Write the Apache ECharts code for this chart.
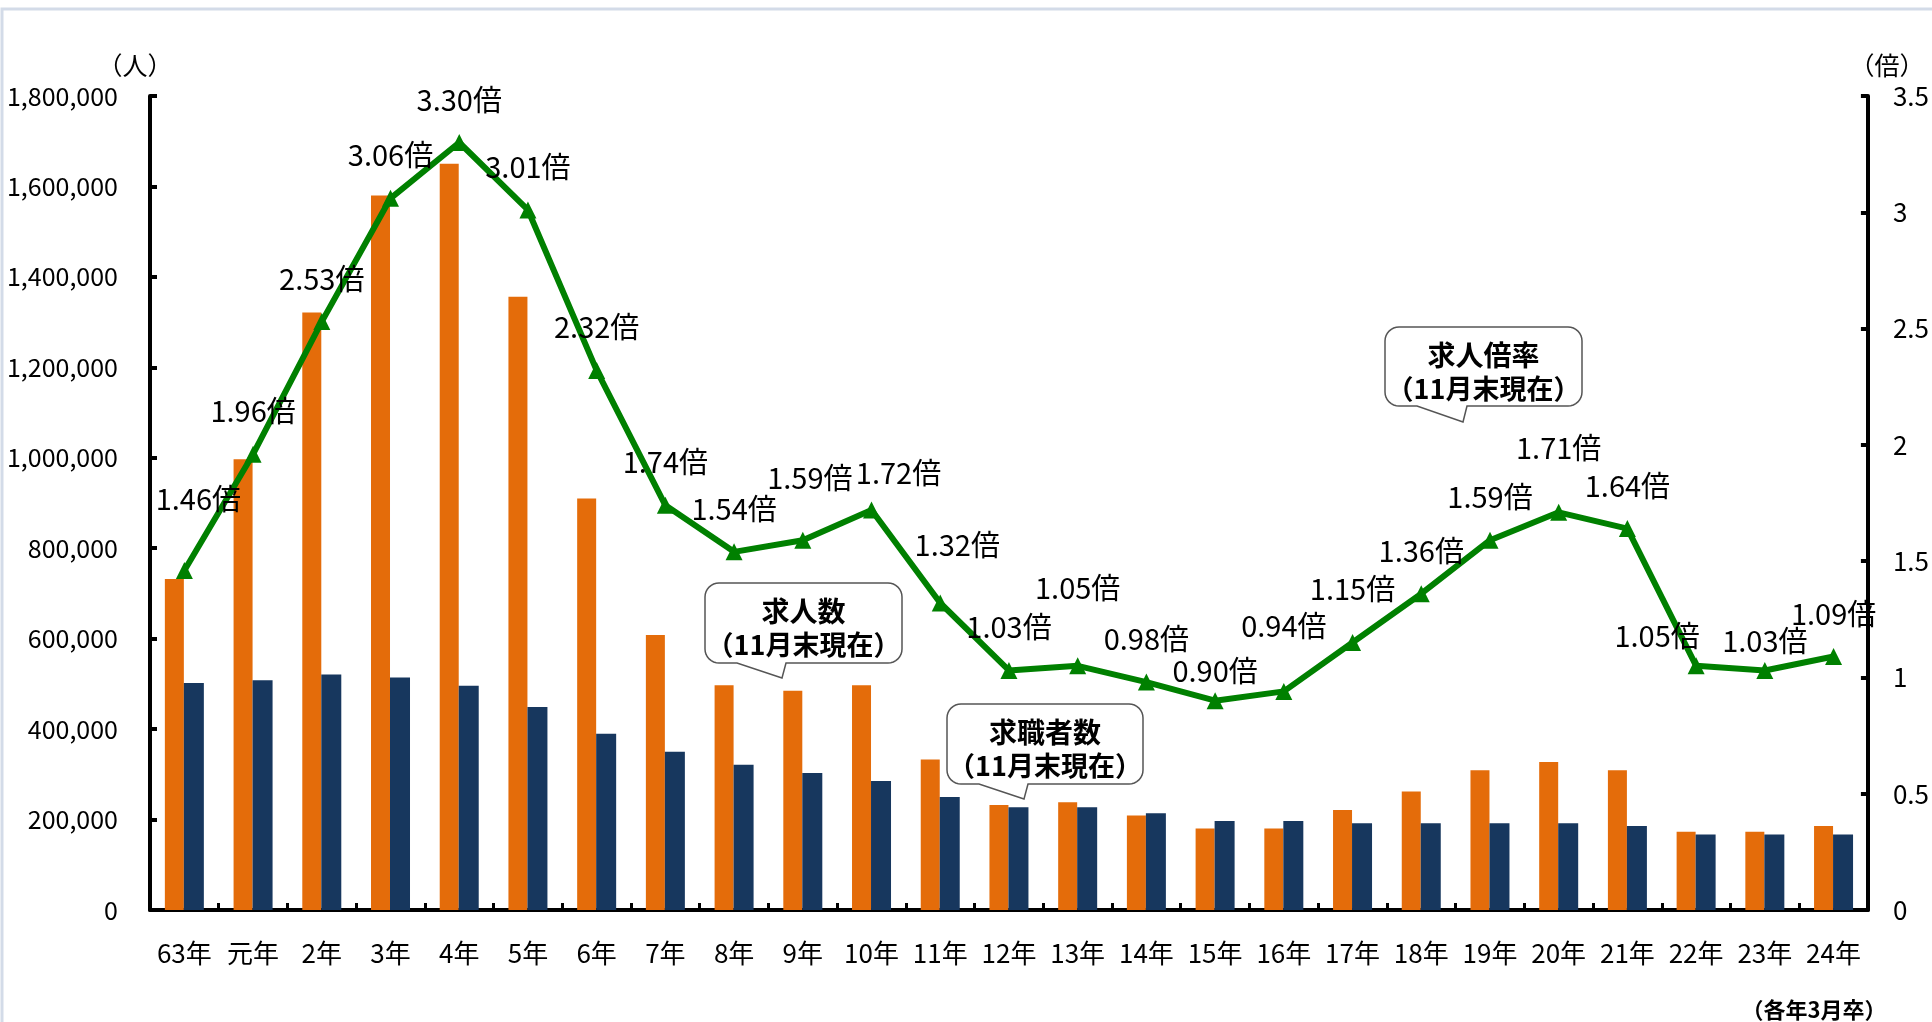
<!DOCTYPE html>
<html><head><meta charset="utf-8">
<script src="https://cdn.jsdelivr.net/npm/echarts@6/dist/echarts.min.js"></script>
<style>html,body{margin:0;padding:0;background:#fff}#c{width:1932px;height:1022px}</style>
</head><body><div id="c"></div>
<script>
const categories = ['63年','元年','2年','3年','4年','5年','6年','7年','8年','9年','10年','11年','12年','13年','14年','15年','16年','17年','18年','19年','20年','21年','22年','23年','24年'];
const jobOffers = [732000, 997000, 1321000, 1580000, 1650000, 1356000, 910000, 608000, 497000, 485000, 497000, 333000, 232000, 238000, 209000, 180000, 180000, 221000, 262000, 309000, 327000, 309000, 173000, 173000, 186000];
const jobSeekers = [502000, 508000, 521000, 514000, 496000, 449000, 390000, 350000, 321000, 303000, 285000, 250000, 227000, 227000, 214000, 197000, 197000, 192000, 192000, 192000, 192000, 186000, 167000, 167000, 167000];
const ratio = [1.46, 1.96, 2.53, 3.06, 3.30, 3.01, 2.32, 1.74, 1.54, 1.59, 1.72, 1.32, 1.03, 1.05, 0.98, 0.90, 0.94, 1.15, 1.36, 1.59, 1.71, 1.64, 1.05, 1.03, 1.09];
const leftTicks = {min: 0, max: 1800000, interval: 200000};
const rightTicks = {min: 0, max: 3.5, interval: 0.5};

const NARROW = "'Liberation Sans Narrow', 'Arial Narrow', 'Noto Sans CJK JP', sans-serif";
const CJK = "'Noto Sans CJK JP', sans-serif";
// label nudges (annotation placement only)
const nudge = {0:[14,-28], 9:[7,-19], 10:[27,6], 11:[17,-15], 13:[0,-35], 15:[0,13], 16:[0,-22], 17:[0,-11], 20:[0,-21], 22:[-39,13], 23:[0,14]};

function arc(pts, cx, cy, r, a0, a1) {
  const n = 8;
  for (let k = 0; k <= n; k++) {
    const a = a0 + (a1 - a0) * k / n;
    pts.push([cx + r * Math.cos(a), cy + r * Math.sin(a)]);
  }
}
function bubblePoints(x, y, w, h, r, t1, t2, tx, ty) {
  const P = Math.PI, pts = [];
  arc(pts, x + w - r, y + r, r, -P / 2, 0);
  arc(pts, x + w - r, y + h - r, r, 0, P / 2);
  pts.push([t2, y + h], [tx, ty], [t1, y + h]);
  arc(pts, x + r, y + h - r, r, P / 2, P);
  arc(pts, x + r, y + r, r, P, P * 1.5);
  return pts;
}
function bubble(x, y, w, h, t1, t2, tx, ty, l1, l2) {
  return [
    {type:'polygon', shape:{points: bubblePoints(x,y,w,h,14,t1,t2,tx,ty)}, style:{fill:'#fff', stroke:'#555', lineWidth:1.5}, z:100},
    {type:'text', x:x+w/2, y:y+28, style:{text:l1, font:"bold 28px "+CJK, fill:'#000', textAlign:'center', textVerticalAlign:'middle'}, z:101},
    {type:'text', x:x+w/2, y:y+62, style:{text:l2, font:"bold 27px "+CJK, fill:'#000', textAlign:'center', textVerticalAlign:'middle'}, z:101}
  ];
}

const chart = echarts.init(document.getElementById('c'));
const axisLine = {show:true, lineStyle:{color:'#000', width:4}};
chart.setOption({
  backgroundColor:'#fff',
  animation:false,
  grid:{left:150, right:60, top:96, bottom:112},
  xAxis:{type:'category', data:categories,
    axisLine:axisLine,
    axisTick:{show:true, inside:true, length:7, interval:0, lineStyle:{color:'#000', width:3}},
    axisLabel:{interval:0, margin:30, fontSize:26, fontFamily:NARROW, color:'#000'}},
  yAxis:[
    {type:'value', min:leftTicks.min, max:leftTicks.max, interval:leftTicks.interval,
     axisLine:axisLine, splitLine:{show:false},
     axisTick:{show:true, inside:true, length:7, lineStyle:{color:'#000', width:4}},
     axisLabel:{margin:32, fontSize:25, fontFamily:NARROW, color:'#000',
       formatter:v=>v.toLocaleString('en-US')}},
    {type:'value', min:rightTicks.min, max:rightTicks.max, interval:rightTicks.interval,
     position:'right',
     axisLine:axisLine, splitLine:{show:false},
     axisTick:{show:true, inside:true, length:7, lineStyle:{color:'#000', width:4}},
     axisLabel:{margin:25, fontSize:26, fontFamily:NARROW, color:'#000'}}
  ],
  series:[
    {name:'求人数', type:'bar', data:jobOffers, barWidth:19, barGap:'0%',
     itemStyle:{color:'#E46C0A'}},
    {name:'求職者数', type:'bar', data:jobSeekers, barWidth:20, barGap:'0%',
     itemStyle:{color:'#17375E'}},
    {name:'求人倍率', type:'line', yAxisIndex:1, z:10,
     data: ratio.map((v,i)=> nudge[i] ? {value:v, label:{offset:nudge[i]}} : v),
     symbol:'triangle', symbolSize:17,
     lineStyle:{color:'#008000', width:6}, itemStyle:{color:'#008000'},
     label:{show:true, position:'top', distance:20, fontSize:29, fontFamily:NARROW, color:'#000',
       formatter:p=>Number(p.value).toFixed(2)+'倍'}}
  ],
  graphic:[
    {type:'rect', shape:{x:2, y:9, width:1940, height:1030}, style:{fill:'none', stroke:'#d3dbe8', lineWidth:3}, z:0},
    {type:'text', x:135, y:65, style:{text:'（人）', font:"25px "+CJK, fill:'#000', textAlign:'center', textVerticalAlign:'middle'}},
    {type:'text', x:1887, y:65, style:{text:'（倍）', font:"25px "+CJK, fill:'#000', textAlign:'center', textVerticalAlign:'middle'}},
    {type:'text', x:1814, y:1010, style:{text:'（各年3月卒）', font:"bold 22px "+CJK, fill:'#000', textAlign:'center', textVerticalAlign:'middle'}},
    ...bubble(705, 583, 197, 80, 737, 786, 782, 678, '求人数', '（11月末現在）'),
    ...bubble(947, 704, 196, 80, 979, 1028, 1024, 799, '求職者数', '（11月末現在）'),
    ...bubble(1385, 327, 197, 79, 1417, 1467, 1463, 422, '求人倍率', '（11月末現在）')
  ]
});
</script></body></html>
